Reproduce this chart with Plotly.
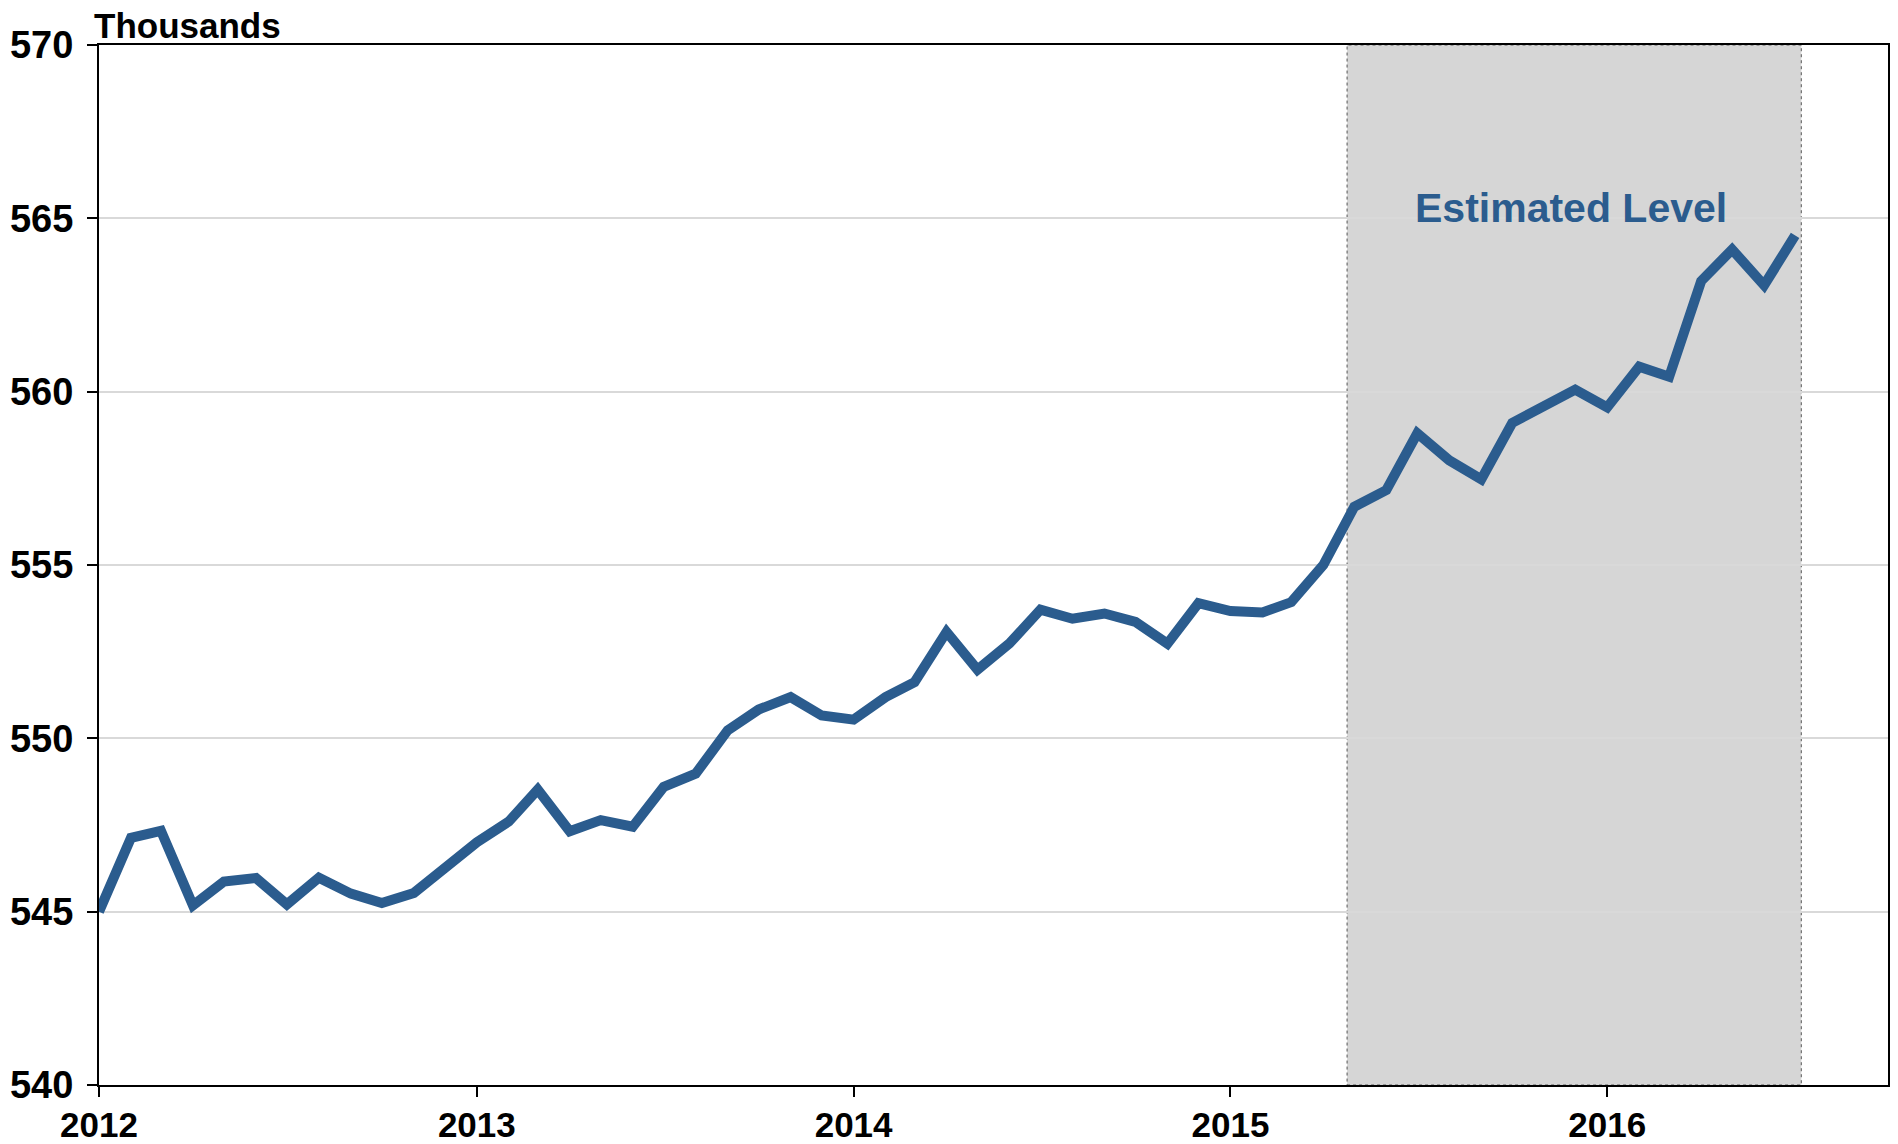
import pandas as pd
import plotly.graph_objects as go

# Monthly level, thousands (Jan 2012 - Jul 2016)
months = pd.date_range("2012-01-01", periods=55, freq="MS")
levels = [
    545.0, 547.13, 547.33, 545.18, 545.87, 545.97, 545.21, 545.98, 545.52, 545.25, 545.54, 546.24,
    547.0, 547.6, 548.52, 547.32, 547.64, 547.45, 548.6, 548.98, 550.23, 550.83, 551.19, 550.66,
    550.54, 551.19, 551.62, 553.07, 551.98, 552.74, 553.71, 553.45, 553.6, 553.36, 552.73, 553.9,
    553.67, 553.63, 553.93, 555.0, 556.68, 557.16, 558.8, 558.02, 557.47, 559.1, 559.6, 560.06,
    559.55, 560.72, 560.43, 563.19, 564.1, 563.07, 564.51,
]

year_ticks = ["2012-01-01", "2013-01-01", "2014-01-01", "2015-01-01", "2016-01-01"]
year_labels = ["2012", "2013", "2014", "2015", "2016"]
y_ticks = [540, 545, 550, 555, 560, 565, 570]

estimate_start = "2015-04-24"
estimate_end = "2016-07-07"

FONT = "Liberation Sans, Arial, Helvetica, sans-serif"
BLUE = "#2b5c8e"

fig = go.Figure()
fig.add_trace(go.Scatter(
    x=months, y=levels, mode="lines",
    line=dict(color=BLUE, width=10),
    hoverinfo="skip", showlegend=False,
))

# shaded estimation window
fig.add_shape(
    type="rect", xref="x", yref="paper",
    x0=estimate_start, x1=estimate_end, y0=0, y1=1,
    fillcolor="rgba(0,0,0,0.16)",
    line=dict(color="#555555", width=1, dash="dot"),
    layer="between",
)

fig.add_annotation(
    x="2015-11-27", y=565.3, xref="x", yref="y",
    text="<b>Estimated Level</b>", showarrow=False,
    font=dict(family=FONT, size=41, color=BLUE),
    xanchor="center", yanchor="middle",
)

fig.add_annotation(
    x=0, y=1, xref="paper", yref="paper",
    text="<b>Thousands</b>", showarrow=False,
    font=dict(family=FONT, size=35, color="black"),
    xanchor="left", yanchor="bottom", xshift=-7, yshift=-2,
)

fig.update_xaxes(
    type="date", range=["2012-01-01", "2016-09-29"],
    tickvals=year_ticks, ticktext=year_labels,
    ticks="outside", ticklen=10, tickwidth=2, tickcolor="black",
    showline=True, linecolor="black", linewidth=2, mirror=True,
    showgrid=False, zeroline=False, automargin=False, ticklabelstandoff=-2,
    tickfont=dict(family=FONT, size=35, color="black", weight="bold"),
)
fig.update_yaxes(
    range=[540, 570], tickvals=y_ticks,
    ticks="outside", ticklen=10, tickwidth=2, tickcolor="black",
    showline=True, linecolor="black", linewidth=2, mirror=True,
    showgrid=True, gridcolor="#d9d9d9", gridwidth=2, zeroline=False,
    ticklabelstandoff=6, automargin=False,
    tickfont=dict(family=FONT, size=38, color="black", weight="bold"),
)

fig.update_layout(
    width=1898, height=1144,
    margin=dict(l=99, r=10, t=45, b=59),
    plot_bgcolor="white", paper_bgcolor="white",
)

fig.write_html("out.html")
